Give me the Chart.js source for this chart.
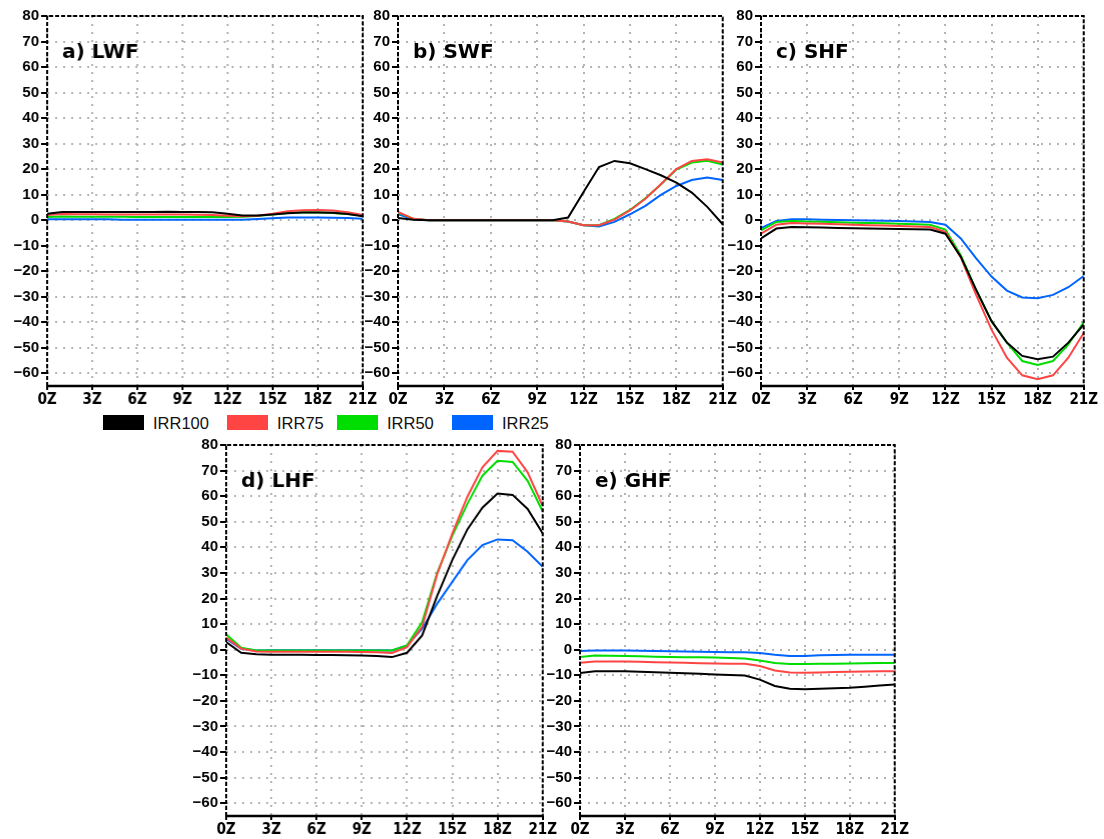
<!DOCTYPE html>
<html>
<head>
<meta charset="utf-8">
<script src="https://cdn.jsdelivr.net/npm/chart.js@4.4.1/dist/chart.umd.min.js"></script>
<style>
  body { margin: 0; background: #fff; }
  #wrap { position: relative; width: 1104px; height: 839px; overflow: hidden; }
  #wrap canvas { position: absolute; }
  .leg-box { position: absolute; width: 41px; height: 15px; }
  .leg-txt { position: absolute; font: 16.5px 'Liberation Sans', Arial, sans-serif; color: #111; line-height: 16px; }
</style>
</head>
<body>
<div id="wrap"></div>
<script>
// hours of the day (UTC)
const hours = [0,1,2,3,4,5,6,7,8,9,10,11,12,13,14,15,16,17,18,19,20,21];
const yTicks = [-60,-50,-40,-30,-20,-10,0,10,20,30,40,50,60,70,80];

const seriesNames = ['IRR100', 'IRR75', 'IRR50', 'IRR25'];
const seriesColors = ['#000000', '#ff4444', '#00dd00', '#0064ff'];

// a) longwave flux
const lwf100 = [2.5,3.2,3.2,3.2,3.2,3.2,3.2,3.2,3.3,3.2,3.2,3.1,2.5,1.8,1.8,2.2,2.7,3.0,3.0,2.9,2.4,1.5];
const lwf75  = [2.0,2.4,2.3,2.3,2.2,2.2,2.2,2.2,2.2,2.2,2.1,2.0,1.7,1.5,1.7,2.5,3.5,3.9,4.0,3.8,3.1,2.0];
const lwf50  = [1.2,1.4,1.3,1.3,1.3,1.3,1.2,1.2,1.2,1.2,1.2,1.2,1.2,1.3,1.6,2.2,2.8,3.0,3.0,2.8,2.4,1.8];
const lwf25  = [0.3,0.3,0.3,0.3,0.3,0.2,0.2,0.2,0.2,0.2,0.2,0.2,0.2,0.2,0.4,0.7,1.0,1.0,1.0,0.9,0.8,0.5];

// b) shortwave flux
const swf100 = [0.8,0.2,0,0,0,0,0,0,0,0,0,1.0,11.0,20.8,23.2,22.3,20.0,17.6,14.7,10.8,5.2,-1.6];
const swf75  = [3.2,0.5,0,0,0,0,0,0,0,0,0,-0.5,-2.0,-2.0,0.2,3.8,8.4,14.1,20.0,23.2,23.9,22.6];
const swf50  = [3.0,0.5,0,0,0,0,0,0,0,0,0,-0.5,-2.0,-2.0,0.5,4.0,8.6,14.0,19.8,22.6,23.3,21.8];
const swf25  = [2.3,0.3,0,0,0,0,0,0,0,0,0,-0.5,-2.0,-2.5,-0.7,2.3,5.6,9.9,13.4,15.7,16.7,15.7];

// c) sensible heat flux
const shf100 = [-7.2,-3.3,-2.7,-2.8,-2.9,-3.1,-3.2,-3.3,-3.4,-3.5,-3.6,-3.7,-5.3,-14.3,-27.3,-39.6,-48.0,-53.2,-54.5,-53.5,-48.0,-40.9];
const shf75  = [-5.3,-1.8,-1.1,-1.3,-1.4,-1.6,-1.8,-2.0,-2.1,-2.3,-2.5,-2.7,-4.6,-14.6,-29.3,-42.9,-53.9,-60.8,-62.3,-60.8,-53.9,-44.2];
const shf50  = [-4.0,-0.7,-0.3,-0.5,-0.6,-0.8,-1.0,-1.1,-1.2,-1.4,-1.6,-1.8,-3.7,-13.7,-27.3,-39.6,-48.0,-55.2,-56.8,-55.2,-48.7,-40.0];
const shf25  = [-3.1,-0.3,0.3,0.3,0.2,0.1,0,-0.1,-0.2,-0.3,-0.5,-0.7,-1.8,-7.2,-15.0,-22.1,-27.6,-30.3,-30.6,-29.3,-26.3,-21.9];

// d) latent heat flux
const lhf100 = [3.0,-1.2,-1.8,-2.0,-2.0,-2.0,-2.1,-2.1,-2.2,-2.3,-2.5,-2.9,-1.2,5.6,21.0,35.0,47.0,55.5,61.0,60.5,55.0,45.4];
const lhf75  = [4.7,0.4,-0.7,-0.8,-0.8,-0.8,-0.8,-0.8,-0.8,-0.9,-1.0,-1.3,1.0,9.0,29.5,45.4,59.8,71.3,77.7,77.4,69.3,56.1];
const lhf50  = [6.0,0.8,-0.3,-0.3,-0.3,-0.3,-0.3,-0.3,-0.3,-0.3,-0.3,-0.3,1.7,10.8,30.0,44.5,57.0,68.0,73.8,73.4,66.0,54.0];
const lhf25  = [4.3,0.4,-0.3,-0.2,-0.2,-0.2,-0.2,-0.2,-0.2,-0.2,-0.2,-0.3,1.7,8.2,18.0,26.5,35.0,40.9,43.1,42.8,38.3,32.4];

// e) ground heat flux
const ghf100 = [-9.1,-8.4,-8.4,-8.4,-8.6,-8.8,-9.0,-9.2,-9.4,-9.7,-9.9,-10.1,-11.7,-14.2,-15.3,-15.5,-15.3,-15.1,-14.9,-14.5,-14.0,-13.6];
const ghf75  = [-5.1,-4.6,-4.6,-4.6,-4.7,-4.9,-5.0,-5.1,-5.3,-5.4,-5.5,-5.5,-6.4,-8.1,-8.9,-9.0,-8.9,-8.7,-8.6,-8.5,-8.4,-8.4];
const ghf50  = [-2.9,-2.3,-2.4,-2.5,-2.6,-2.8,-2.9,-3.0,-3.0,-3.1,-3.2,-3.4,-4.2,-5.2,-5.6,-5.6,-5.5,-5.5,-5.4,-5.3,-5.2,-5.2];
const ghf25  = [-0.5,-0.3,-0.3,-0.3,-0.4,-0.5,-0.6,-0.7,-0.8,-0.9,-1.0,-1.0,-1.3,-2.0,-2.5,-2.5,-2.2,-2.1,-2.0,-2.0,-2.0,-2.0];

const panels = [
    { title: 'a) LWF', box: [47, 15, 363.5, 386], series: [lwf100, lwf75, lwf50, lwf25] },
    { title: 'b) SWF', box: [397.5, 15, 723.5, 386], series: [swf100, swf75, swf50, swf25] },
    { title: 'c) SHF', box: [760.5, 15, 1085, 386], series: [shf100, shf75, shf50, shf25] },
    { title: 'd) LHF', box: [226, 443.5, 543.5, 816], series: [lhf100, lhf75, lhf50, lhf25] },
    { title: 'e) GHF', box: [580, 443.5, 896, 816], series: [ghf100, ghf75, ghf50, ghf25] }
];

const AXIS_W = 48, AXIS_H = 26, PAD_T = 10, PAD_R = 14;
const tickFont = { family: "'Liberation Sans', Arial, sans-serif", size: 15, weight: 'bold' };
const xTickFont = { family: "'Liberation Sans Narrow', 'DejaVu Sans Condensed', sans-serif", size: 15, weight: 'bold' };

// frame: dashed top/right/left, solid bottom, plus the panel label
const framePlugin = {
    id: 'frame',
    afterDraw(chart) {
        const { ctx, chartArea: a } = chart;
        ctx.save();
        ctx.strokeStyle = '#000';
        ctx.lineWidth = 2;
        ctx.setLineDash([4, 2]);
        ctx.beginPath();
        ctx.moveTo(a.left, a.bottom);
        ctx.lineTo(a.left, a.top);
        ctx.lineTo(a.right, a.top);
        ctx.lineTo(a.right, a.bottom);
        ctx.stroke();
        ctx.setLineDash([]);
        ctx.lineWidth = 2.5;
        ctx.beginPath();
        ctx.moveTo(a.left - 1, a.bottom);
        ctx.lineTo(a.right + 1, a.bottom);
        ctx.stroke();

        ctx.fillStyle = '#000';
        ctx.font = "bold 20px 'DejaVu Sans', sans-serif";
        ctx.textBaseline = 'middle';
        ctx.fillText(chart.options.plugins.panelTitle, a.left + 15, a.top + 37);
        ctx.restore();
    }
};

const gridOpts = {
    color: '#b4b4b4',
    lineWidth: 2,
    tickColor: '#000',
    tickWidth: 2,
    tickBorderDash: []
};

const wrap = document.getElementById('wrap');

panels.forEach(p => {
    const [l, t, r, b] = p.box;
    const canvas = document.createElement('canvas');
    const w = r - l + AXIS_W + PAD_R;
    const h = b - t + PAD_T + AXIS_H;
    canvas.style.left = (l - AXIS_W) + 'px';
    canvas.style.top = (t - PAD_T) + 'px';
    canvas.style.width = w + 'px';
    canvas.style.height = h + 'px';
    canvas.width = w;
    canvas.height = h;
    wrap.appendChild(canvas);

    const datasets = p.series.map((vals, i) => ({
        label: seriesNames[i],
        data: hours.map((hr, k) => ({ x: hr, y: vals[k] })),
        borderColor: seriesColors[i],
        borderWidth: 2,
        pointRadius: 0,
        tension: 0,
        fill: false
    }));

    new Chart(canvas, {
        type: 'line',
        data: { datasets: datasets },
        options: {
            responsive: false,
            animation: false,
            events: [],
            layout: { padding: { top: PAD_T, right: PAD_R, left: 0, bottom: 0 } },
            plugins: {
                legend: { display: false },
                tooltip: { enabled: false },
                panelTitle: p.title
            },
            scales: {
                x: {
                    type: 'linear',
                    min: 0,
                    max: 21,
                    z: 1,
                    afterFit: s => { s.height = AXIS_H; },
                    ticks: {
                        stepSize: 3,
                        color: '#000',
                        font: xTickFont,
                        padding: 1,
                        maxRotation: 0,
                        callback: v => v + 'Z'
                    },
                    grid: Object.assign({ tickLength: 4 }, gridOpts),
                    border: { display: false, dash: [2, 6] }
                },
                y: {
                    min: -65,
                    max: 80,
                    z: 1,
                    afterFit: s => { s.width = AXIS_W; },
                    afterBuildTicks: s => { s.ticks = yTicks.map(v => ({ value: v })); },
                    ticks: {
                        color: '#000',
                        font: tickFont,
                        padding: 2,
                        callback: v => String(v).replace('-', '\u2212')
                    },
                    grid: Object.assign({ tickLength: 6 }, gridOpts),
                    border: { display: false, dash: [2, 6] }
                }
            }
        },
        plugins: [framePlugin]
    });
});

// legend row between the two panel rows
const legendBoxX = [103, 227, 337, 452];
seriesNames.forEach((name, i) => {
    const box = document.createElement('div');
    box.className = 'leg-box';
    box.style.left = legendBoxX[i] + 'px';
    box.style.top = '415px';
    box.style.background = seriesColors[i];
    wrap.appendChild(box);
    const txt = document.createElement('div');
    txt.className = 'leg-txt';
    txt.style.left = (legendBoxX[i] + 50) + 'px';
    txt.style.top = '415px';
    txt.textContent = name;
    wrap.appendChild(txt);
});
</script>
</body>
</html>
